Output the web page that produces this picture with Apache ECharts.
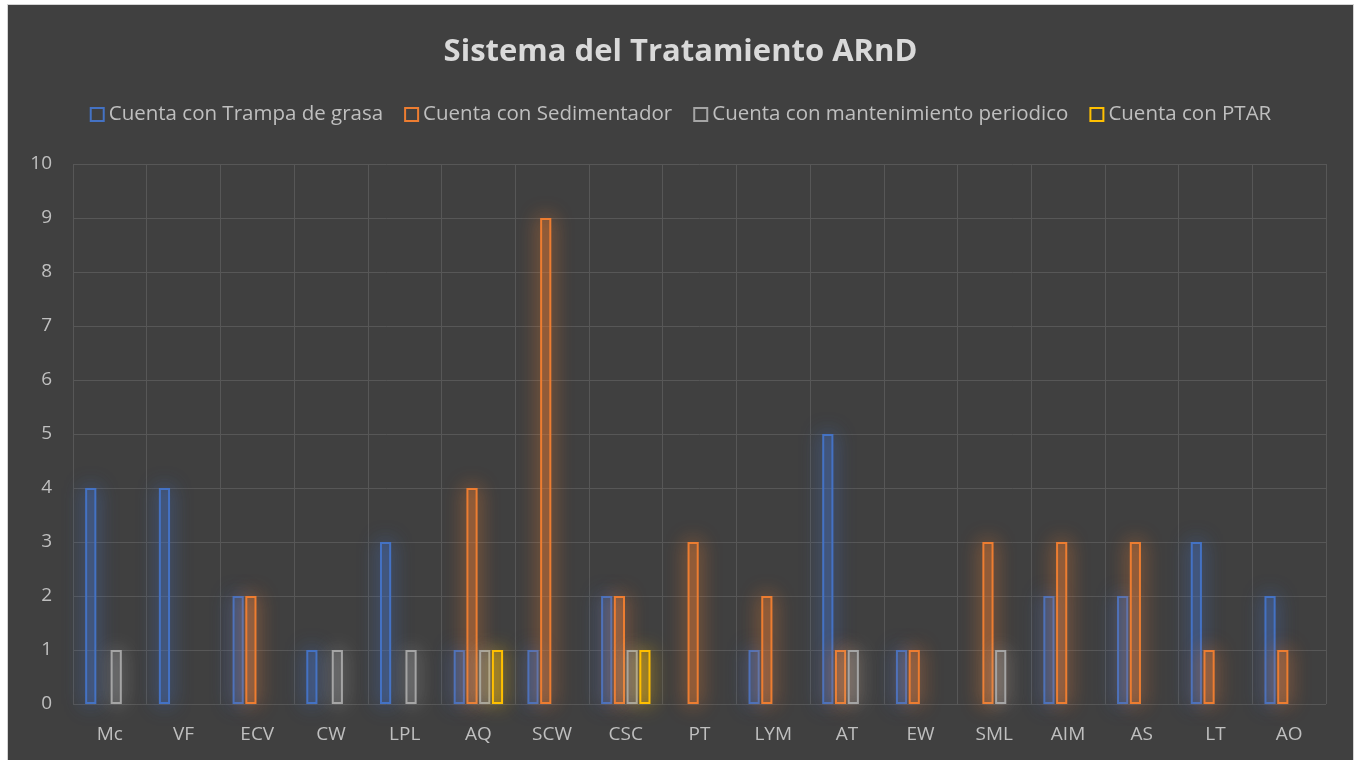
<!DOCTYPE html>
<html>
<head>
<meta charset="utf-8">
<script src="https://cdn.jsdelivr.net/npm/echarts@6/dist/echarts.min.js"></script>
<style>
  html, body { margin: 0; padding: 0; background: #ffffff; width: 1357px; height: 760px; overflow: hidden; }
  #chart { position: absolute; left: 7px; top: 4px; width: 1345px; height: 756px;
           border-left: 1px solid #d4d4d4; border-top: 1px solid #d4d4d4; border-right: 1px solid #d4d4d4;
           background: #404040; }
</style>
</head>
<body>
<div id="chart"></div>
<script>
// Plants / sites on the x axis
const categories = ['Mc', 'VF', 'ECV', 'CW', 'LPL', 'AQ', 'SCW', 'CSC', 'PT', 'LYM', 'AT', 'EW', 'SML', 'AIM', 'AS', 'LT', 'AO'];

// Counts per site (null = no bar)
const trampaGrasa   = [4, 4, 2, 1, 3, 1, 1, 2, null, 1, 5, 1, null, 2, 2, 3, 2];
const sedimentador  = [null, null, 2, null, null, 4, 9, 2, 3, 2, 1, 1, 3, 3, 3, 1, 1];
const mantenimiento = [1, null, null, 1, 1, 1, null, 1, null, null, 1, null, 1, null, null, null, null];
const ptar          = [null, null, null, null, null, 1, null, 1, null, null, null, null, null, null, null, null, null];

const seriesNames = ['Cuenta con Trampa de grasa', 'Cuenta con Sedimentador', 'Cuenta con mantenimiento periodico', 'Cuenta con PTAR'];
const yTicks = [0, 10, 1]; // min, max, step

const palette = [
  { line: '#4472C4', fill: 'rgba(68,114,196,0.3)', glow: 'rgba(68,114,196,1)' },
  { line: '#ED7D31', fill: 'rgba(237,125,49,0.3)', glow: 'rgba(237,125,49,1)' },
  { line: '#A5A5A5', fill: 'rgba(165,165,165,0.22)', glow: 'rgba(200,200,200,0.75)' },
  { line: '#FFC000', fill: 'rgba(255,192,0,0.3)', glow: 'rgba(255,192,0,0.9)' }
];

const values = [trampaGrasa, sedimentador, mantenimiento, ptar];

const chart = echarts.init(document.getElementById('chart'), null, { renderer: 'canvas' });

const fontFamily = '"Open Sans", "Noto Sans", sans-serif';

chart.setOption({
  backgroundColor: '#404040',
  animation: false,
  title: {
    text: 'Sistema del Tratamiento ARnD',
    left: 'center',
    top: 27,
    textStyle: { color: '#d9d9d9', fontSize: 31, fontWeight: 'bold', fontFamily }
  },
  legend: {
    top: 94,
    left: 'center',
    itemGap: 21,
    itemWidth: 13,
    itemHeight: 13,
    icon: 'rect',
    textStyle: { color: '#bfbfbf', fontSize: 20.5, fontFamily, padding: [0, 0, 0, 0] },
    data: seriesNames.map((n, i) => ({
      name: n,
      itemStyle: { color: 'transparent', borderColor: palette[i].line, borderWidth: 2, shadowBlur: 0 }
    }))
  },
  grid: { left: 65, right: 27, top: 159, bottom: 57, containLabel: false },
  xAxis: {
    type: 'category',
    data: categories,
    axisLine: { show: false },
    axisTick: { show: false },
    axisLabel: { color: '#bfbfbf', fontSize: 19, fontFamily, margin: 21 },
    splitLine: { show: true, interval: 0, lineStyle: { color: '#575757', width: 1 } }
  },
  yAxis: {
    type: 'value',
    min: yTicks[0],
    max: yTicks[1],
    interval: yTicks[2],
    axisLine: { show: false },
    axisTick: { show: false },
    axisLabel: { color: '#bfbfbf', fontSize: 19, fontFamily, margin: 21 },
    splitLine: { lineStyle: { color: '#575757', width: 1 } }
  },
  series: seriesNames.map((n, i) => ({
    name: n,
    type: 'bar',
    data: values[i],
    barGap: '14%',
    barCategoryGap: '33%',
    itemStyle: {
      color: palette[i].fill,
      borderColor: palette[i].line,
      borderWidth: 2,
      shadowBlur: 20,
      shadowColor: palette[i].glow
    }
  }))
});
</script>
</body>
</html>
